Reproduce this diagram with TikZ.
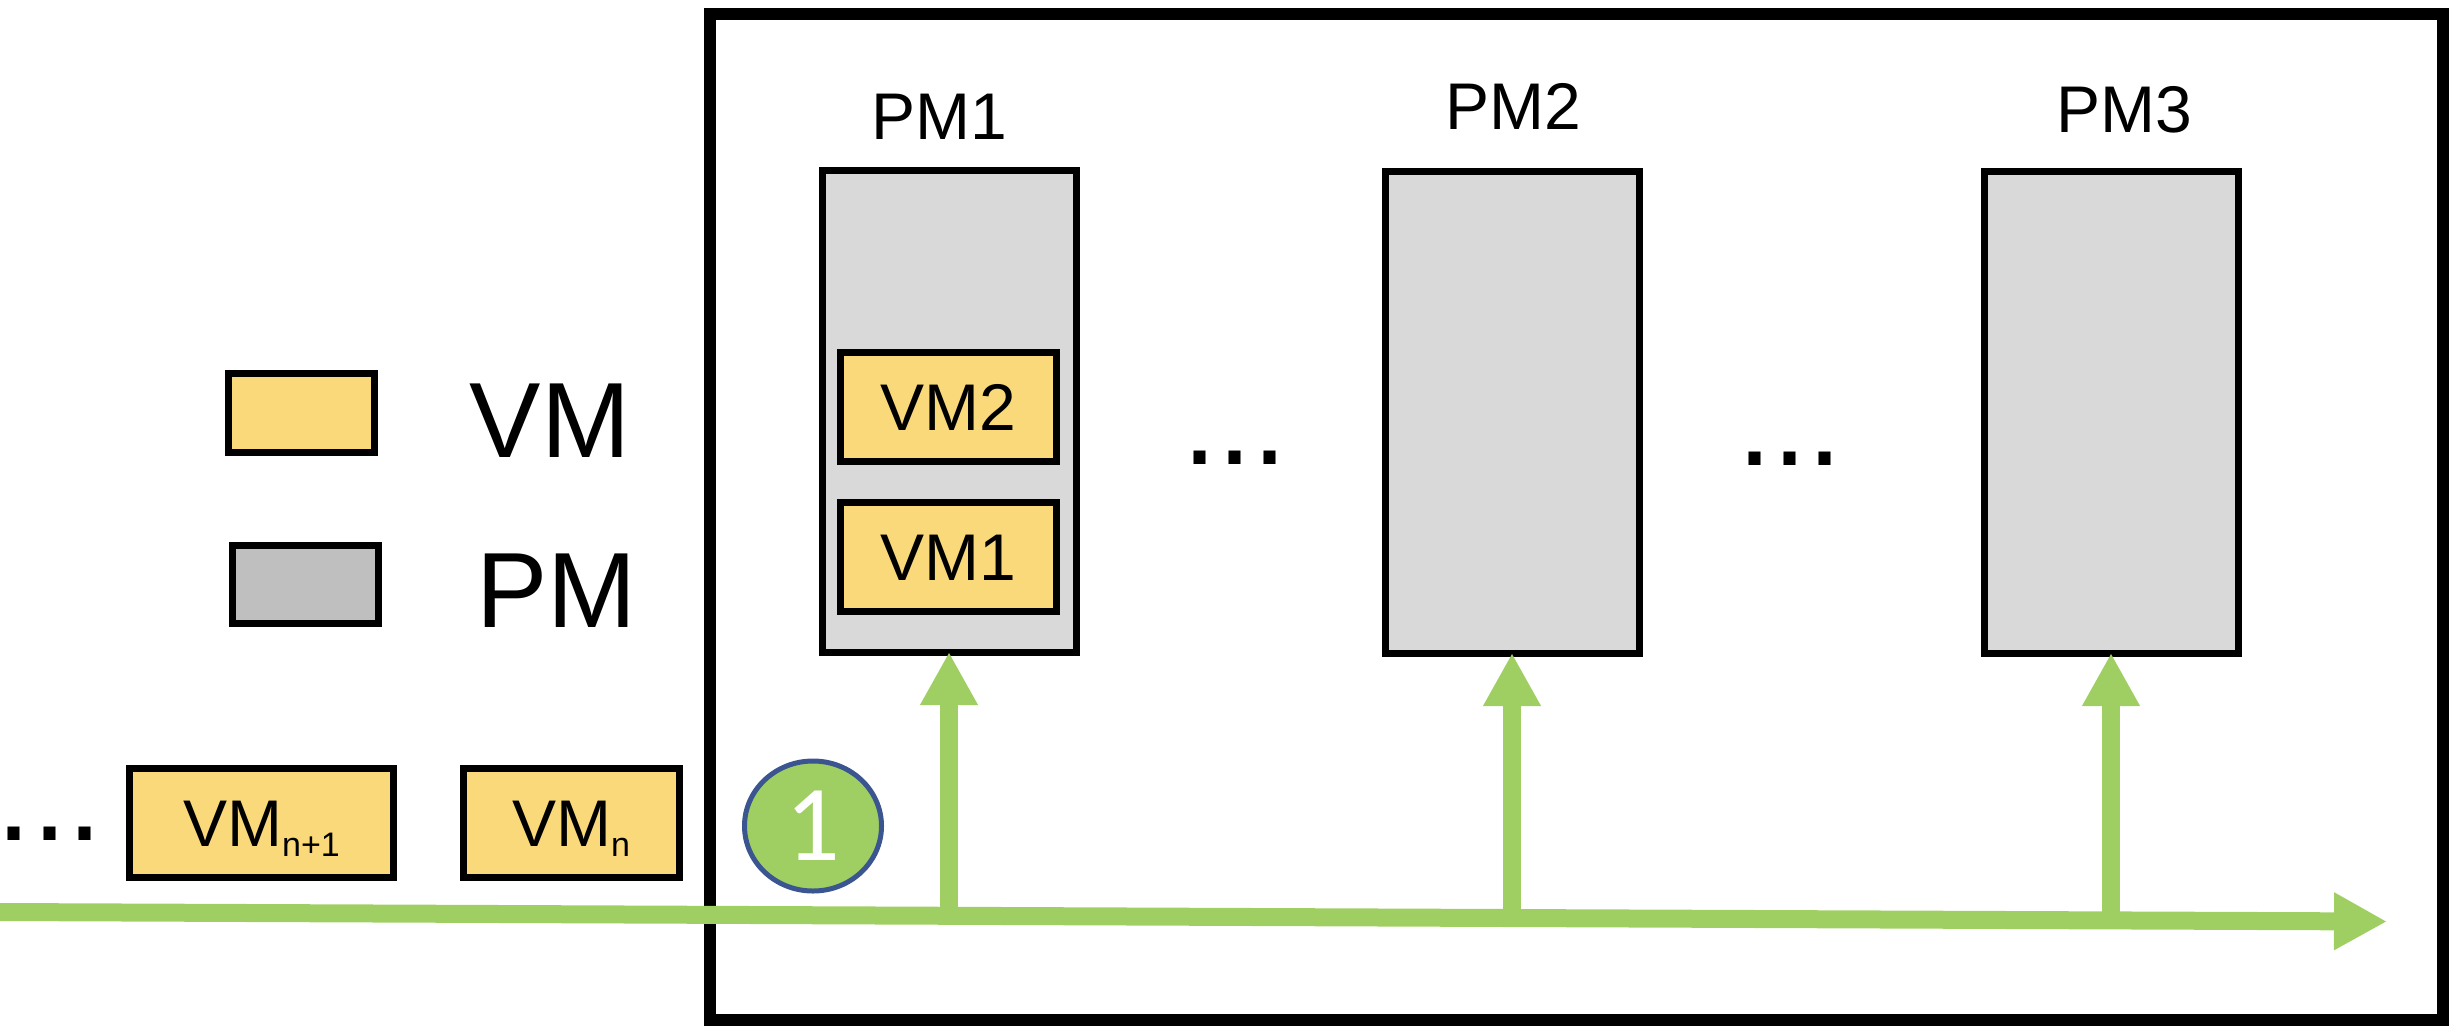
\documentclass[tikz,border=0pt]{standalone}
\usepackage{fontspec}
\setmainfont{Liberation Sans}
\newfontfamily\calfont{Carlito}
\usetikzlibrary{arrows.meta,shapes.geometric}
\definecolor{vmyellow}{HTML}{F9D97A}
\definecolor{pmgray}{HTML}{D9D9D9}
\definecolor{leggray}{HTML}{BFBFBF}
\definecolor{busgreen}{HTML}{9FCF63}
\definecolor{circblue}{HTML}{3B5591}
\tikzset{
  vmbox/.style={draw=black, line width=7pt, fill=vmyellow, minimum width=216pt, minimum height=109pt,
    inner sep=0pt, outer sep=0pt, font=\fontsize{66}{70}\selectfont, text height=47pt, text depth=0pt},
  pmbox/.style={draw=black, line width=7pt, fill=pmgray, minimum width=254pt, minimum height=482pt,
    inner sep=0pt, outer sep=0pt},
  lbl/.style={font=\fontsize{66}{70}\selectfont, inner sep=0pt, anchor=base},
  biglbl/.style={font=\fontsize{107}{110}\selectfont, inner sep=0pt, anchor=base},
  dotlbl/.style={font=\fontsize{126}{130}\selectfont, inner sep=0pt, anchor=base},
  bus/.style={draw=busgreen, line width=18pt, -{Triangle[length=53pt,width=54pt]}},
}
\begin{document}
\begin{tikzpicture}[x=1pt,y=-1pt]
\useasboundingbox (0,0) rectangle (2456,1034);
% outer frame
\draw[line width=12pt] (710,14) rectangle (2443,1020);
% PM boxes
\node[pmbox] (pm1) at (949,411) {};
\node[pmbox] (pm2) at (1512,412) {};
\node[pmbox] (pm3) at (2111,412) {};
\node[lbl] (pm1l) at (939.5,139) {PM1};
\node[lbl] (pm2l) at (1513,129) {PM2};
\node[lbl] (pm3l) at (2124,132) {PM3};
% VMs in PM1
\node[vmbox] (vm2) at (948.5,407) {VM2};
\node[vmbox] (vm1) at (948.5,557) {VM1};
% dots
\node[dotlbl] (d1) at (1234.5,464) {...};
\node[dotlbl] (d2) at (1789.5,465) {...};
\node[dotlbl] (d0) at (49.5,840) {...};
% legend
\node[draw=black, line width=7pt, fill=vmyellow, minimum width=146pt, minimum height=79pt, outer sep=0pt] (legvm) at (301.5,413) {};
\node[draw=black, line width=7pt, fill=leggray, minimum width=146pt, minimum height=78pt, outer sep=0pt] (legpm) at (305.5,584.5) {};
\node[biglbl] (legvml) at (550,457) {VM};
\node[biglbl] (legpml) at (556.5,627) {PM};
% queue VMs
\node[vmbox, minimum width=264pt] (vmn1) at (261.5,823) {VM\raisebox{-10pt}{\fontsize{34}{36}\selectfont n+1}};
\node[vmbox] (vmn) at (571,823) {VM\raisebox{-10pt}{\fontsize{34}{36}\selectfont n}};
% step circle
\node[ellipse, draw=circblue, line width=5pt, fill=busgreen, minimum width=137pt, minimum height=130pt,
  inner sep=0pt, text=white, font=\calfont\fontsize{108}{110}\selectfont, text height=69pt, text depth=0pt] (c1) at (813,826) {1};
% bus
\coordinate (busL) at (0,912);
\coordinate (busR) at (2387,921.5);
\draw[bus] (busL) -- (busR);
\draw[bus] (pm1.south |- busL) ++(0,3) -- (pm1.south);
\draw[bus] (pm2.south |- busL) ++(0,5) -- (pm2.south);
\draw[bus] (pm3.south |- busL) ++(0,7) -- (pm3.south);
\end{tikzpicture}
\end{document}
